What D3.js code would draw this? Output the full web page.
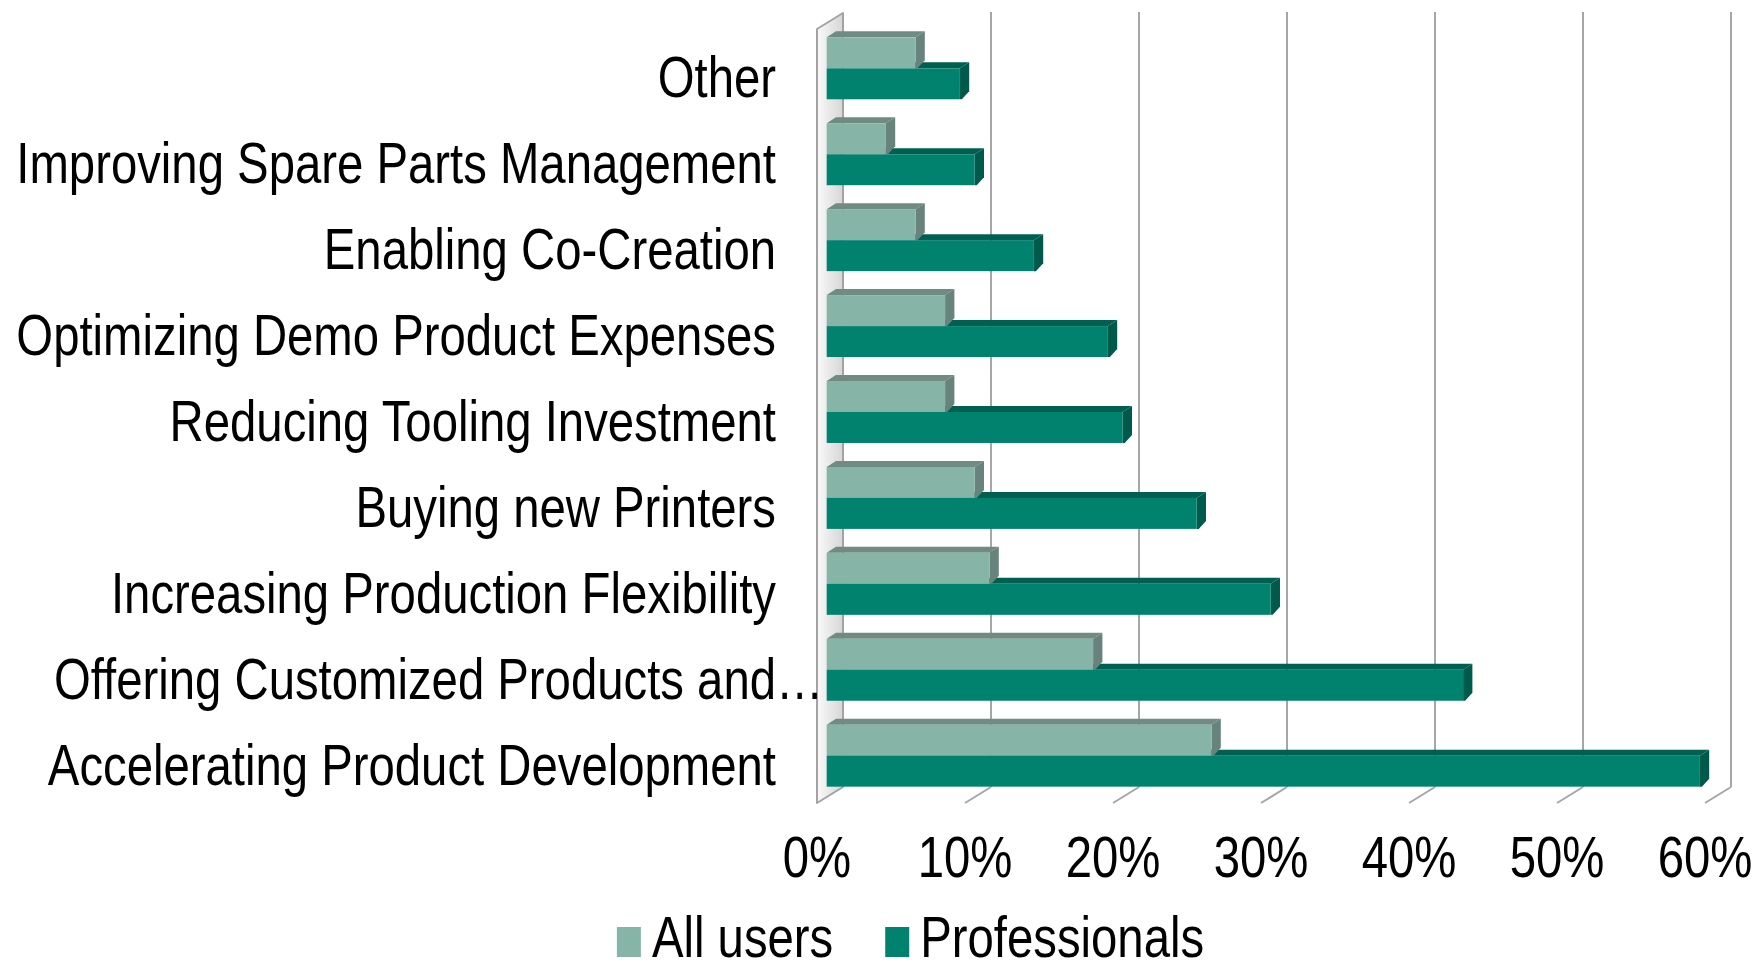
<!DOCTYPE html>
<html>
<head>
<meta charset="utf-8">
<script src="https://cdn.jsdelivr.net/npm/d3@7"></script>
<style>
  html, body { margin: 0; padding: 0; background: #ffffff; }
  svg { display: block; }
  text { font-family: "Liberation Sans", Arial, sans-serif; fill: #000; }
</style>
</head>
<body>
<svg id="chart" width="1760" height="963"></svg>
<script>
// Reasons for using 3D printing, share of respondents
const categories = [
  "Other",
  "Improving Spare Parts Management",
  "Enabling Co-Creation",
  "Optimizing Demo Product Expenses",
  "Reducing Tooling Investment",
  "Buying new Printers",
  "Increasing Production Flexibility",
  "Offering Customized Products and\u2026",
  "Accelerating Product Development"
];
const seriesNames = ["All users", "Professionals"];
const allUsers      = [0.06, 0.04, 0.06, 0.08, 0.08, 0.10, 0.11, 0.18, 0.26];
const professionals = [0.09, 0.10, 0.14, 0.19, 0.20, 0.25, 0.30, 0.43, 0.59];
const tickValues = [0, 0.1, 0.2, 0.3, 0.4, 0.5, 0.6];

const palette = {
  "All users":     { front: "#86b5a8", top: "#6f8b82", side: "#68837b" },
  "Professionals": { front: "#00826f", top: "#005f50", side: "#005a4b" }
};

const svg = d3.select("#chart");
const FS = 57;
const SQUEEZE = 0.83;   // condensed lettering

// text placed at (px, py) and narrowed horizontally
function narrowText(sel, px, py, anchor) {
  return sel.append("g")
    .attr("transform", (d, i) => `translate(${px(d, i)},${py(d, i)}) scale(${SQUEEZE},1)`)
    .append("text")
    .attr("text-anchor", anchor)
    .attr("font-size", FS);
}

// bar front plane
const x = d3.scaleLinear().domain([0, 0.6]).range([826.7, 1714.7]);
const y0 = d3.scaleBand().domain(categories).range([25.3, 798.7])
  .paddingInner(0.279).paddingOuter(0.14);
const y1 = d3.scaleBand().domain(seriesNames).range([0, y0.bandwidth()]);

// 3D offsets: bar depth, and floor/back-wall planes relative to the bar front plane
const barD = { dx: 9.3, dy: -6 };
const frontPlane = { dx: -9.7, dy: 0 };
const backPlane = { dx: 16.3, dy: -16 };
const wallTop = 29, wallBottom = 803;

// floor (value 0 plane)
const defs = svg.append("defs");
const grad = defs.append("linearGradient").attr("id", "wallGrad")
  .attr("x1", "0").attr("x2", "1").attr("y1", "0").attr("y2", "0");
grad.append("stop").attr("offset", "0").attr("stop-color", "#fafafa");
grad.append("stop").attr("offset", "1").attr("stop-color", "#d6d6d6");

const fx = x(0) + frontPlane.dx, bx = x(0) + backPlane.dx;
svg.append("path")
  .attr("d", `M${fx},${wallTop} L${bx},${wallTop + backPlane.dy} L${bx},${wallBottom + backPlane.dy} L${fx},${wallBottom} Z`)
  .attr("fill", "url(#wallGrad)")
  .attr("stroke", "#a3a3a3").attr("stroke-width", 2).attr("stroke-linejoin", "round");

// gridlines on the back wall, with depth ticks along the floor
const grid = svg.append("g");
grid.selectAll("line.grid").data(tickValues.slice(1)).join("line")
  .attr("class", "grid")
  .attr("x1", d => x(d) + backPlane.dx).attr("x2", d => x(d) + backPlane.dx)
  .attr("y1", wallTop + backPlane.dy - 1).attr("y2", wallBottom + backPlane.dy)
  .attr("stroke", "#a6a6a6").attr("stroke-width", 2);
grid.selectAll("line.tick").data(tickValues.slice(1)).join("line")
  .attr("class", "tick")
  .attr("x1", d => x(d) + backPlane.dx).attr("y1", wallBottom + backPlane.dy)
  .attr("x2", d => x(d) + frontPlane.dx).attr("y2", wallBottom)
  .attr("stroke", "#a6a6a6").attr("stroke-width", 2);

// 3D bars: front, top and right side faces
function drawBar(g, v, yTop, h, col) {
  const x0 = x(0), x1 = x(v);
  g.append("path")
    .attr("d", `M${x0},${yTop} L${x1},${yTop} L${x1 + barD.dx},${yTop + barD.dy} L${x0 + barD.dx},${yTop + barD.dy} Z`)
    .attr("fill", col.top);
  g.append("path")
    .attr("d", `M${x1},${yTop} L${x1 + barD.dx},${yTop + barD.dy} L${x1 + barD.dx},${yTop + h + barD.dy - 2} L${x1 + 2},${yTop + h} L${x1},${yTop + h} Z`)
    .attr("fill", col.side);
  g.append("rect")
    .attr("x", x0).attr("y", yTop).attr("width", x1 - x0).attr("height", h)
    .attr("fill", col.front);
}

const rows = categories.map((c, i) => ({ c, "All users": allUsers[i], "Professionals": professionals[i] }));
const bars = svg.append("g");
rows.forEach(r => {
  const g = bars.append("g");
  // lower series first so the upper bar sits on top of it
  ["Professionals", "All users"].forEach(s => {
    drawBar(g, r[s], y0(r.c) + y1(s), y1.bandwidth(), palette[s]);
  });
});

// category labels (a trailing ellipsis hangs past the label edge)
const labelX = 776;
const catLabels = svg.append("g").selectAll("g").data(categories).join("g");
narrowText(catLabels, () => labelX, d => y0(d) + y0.bandwidth() / 2 + 29, "end")
  .text(d => d)
  .attr("dx", function (d) {
    if (!d.endsWith("\u2026")) return 0;
    const t = d3.select(this);
    const full = this.getComputedTextLength();
    t.text(d.slice(0, -1));
    const trimmed = this.getComputedTextLength();
    t.text(d);
    return full - trimmed;
  });

// value axis labels
const tickLabels = svg.append("g").selectAll("g").data(tickValues).join("g");
narrowText(tickLabels, d => x(d) + frontPlane.dx, () => 877, "middle")
  .text(d3.format(".0%"));

// legend
const legend = svg.append("g");
const items = legend.selectAll("g.item").data(seriesNames).join("g").attr("class", "item");
items.append("rect").attr("width", 24).attr("height", 30).attr("y", 927)
  .attr("fill", d => palette[d].front);
narrowText(items, () => 35, () => 957, "start").text(d => d);
const widths = [];
items.each(function () {
  widths.push(35 + SQUEEZE * d3.select(this).select("text").node().getComputedTextLength());
});
const gap = 52;
const total = d3.sum(widths) + gap * (widths.length - 1);
let cx = 910.5 - total / 2;
items.attr("transform", (d, i) => {
  const t = `translate(${cx},0)`;
  cx += widths[i] + gap;
  return t;
});
</script>
</body>
</html>
